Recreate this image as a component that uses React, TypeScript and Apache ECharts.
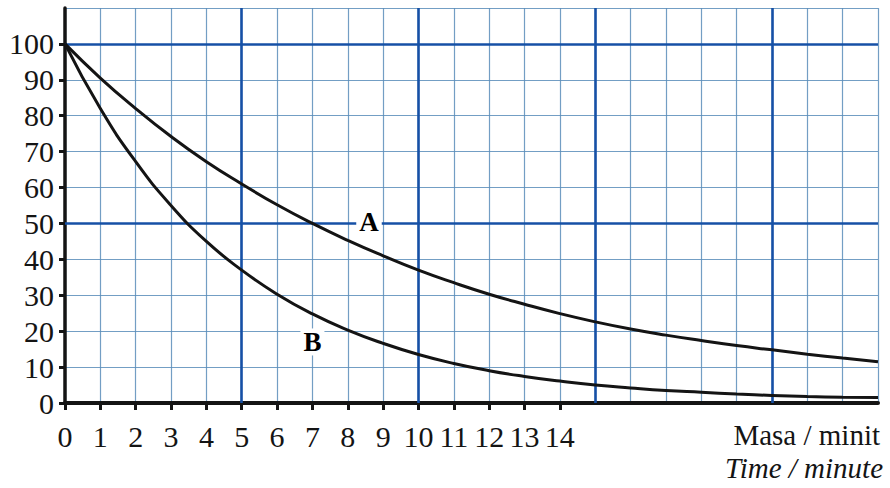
import React, { useEffect, useRef } from "react";
import * as echarts from "echarts";

// time in minutes
const minutes = [0, 1, 2, 3, 4, 5, 6, 7, 8, 9, 10, 11, 12, 13, 14, 15, 16, 17, 18, 19, 20, 21, 22, 23];
// mass (%) for curve A
const massA = [100, 90.5, 82, 74.2, 67.2, 61, 55.2, 50, 45.3, 41, 37, 33.5, 30.3, 27.5, 24.9, 22.6, 20.6, 18.9, 17.4, 16.0, 14.8, 13.6, 12.5, 11.5];
// mass (%) for curve B
const massB = [100, 82, 67.2, 55, 45, 37, 30.3, 24.8, 20.3, 16.6, 13.5, 11.0, 9.0, 7.4, 6.1, 5.0, 4.2, 3.5, 3.0, 2.5, 2.1, 1.8, 1.6, 1.5];

const xTickLabels = [0, 1, 2, 3, 4, 5, 6, 7, 8, 9, 10, 11, 12, 13, 14];
const yTickLabels = [0, 10, 20, 30, 40, 50, 60, 70, 80, 90, 100];
const majorX = [5, 10, 15, 20];
const majorY = [50, 100];

// curve name labels (anchor in data units)
const curveNames = ["A", "B"];
const curveNameX = [8.6, 7.0];
const curveNameY = [50.3, 17.0];

const SERIF = "'Liberation Serif', 'DejaVu Serif', serif";
const INK = "#141414";
const MINOR = "#5b8dba";
const MAJOR = "#1650a6";

export default function App() {
  const ref = useRef<HTMLDivElement>(null);

  useEffect(() => {
    document.body.style.margin = "0";
    const chart = echarts.init(ref.current!, null, { renderer: "svg" });

    const lineA = minutes.map((m, i) => [m, massA[i]]);
    const lineB = minutes.map((m, i) => [m, massB[i]]);
    const nameData = curveNames.map((n, i) => [curveNameX[i], curveNameY[i], n]);

    const majorLines = [
      ...majorX.map((v) => ({ xAxis: v })),
      ...majorY.map((v) => ({ yAxis: v })),
    ];

    chart.setOption({
      animation: false,
      backgroundColor: "#ffffff",
      grid: { left: 65, right: 12, top: 8, bottom: 85 },
      xAxis: [
        {
          type: "value",
          min: 0,
          max: 23,
          interval: 1,
          position: "bottom",
          axisLine: { show: false },
          axisTick: { show: false },
          axisLabel: { show: false },
          splitLine: { show: true, lineStyle: { color: MINOR, width: 1.2, opacity: 0.85 } },
        },
        {
          type: "value",
          min: 0,
          max: 23,
          interval: 1,
          position: "bottom",
          axisLine: { show: true, onZero: false, lineStyle: { color: INK, width: 4 } },
          axisTick: {
            show: true,
            customValues: xTickLabels,
            length: 7,
            lineStyle: { color: INK, width: 3 },
          },
          axisLabel: {
            show: true,
            customValues: xTickLabels,
            margin: 18,
            fontSize: 30,
            fontFamily: SERIF,
            color: INK,
          },
          splitLine: { show: false },
        },
      ],
      yAxis: [
        {
          type: "value",
          min: 0,
          max: 110,
          interval: 10,
          position: "left",
          axisLine: { show: false },
          axisTick: { show: false },
          axisLabel: { show: false },
          splitLine: { show: true, lineStyle: { color: MINOR, width: 1.2, opacity: 0.85 } },
        },
        {
          type: "value",
          min: 0,
          max: 110,
          interval: 10,
          position: "left",
          axisLine: { show: true, onZero: false, lineStyle: { color: INK, width: 3.5 } },
          axisTick: {
            show: true,
            customValues: yTickLabels,
            length: 6,
            lineStyle: { color: INK, width: 3 },
          },
          axisLabel: {
            show: true,
            customValues: yTickLabels,
            margin: 11,
            fontSize: 30,
            fontFamily: SERIF,
            color: INK,
          },
          splitLine: { show: false },
        },
      ],
      series: [
        {
          type: "line",
          name: "major",
          xAxisIndex: 0,
          yAxisIndex: 0,
          data: [],
          silent: true,
          markLine: {
            silent: true,
            symbol: "none",
            label: { show: false },
            lineStyle: { color: MAJOR, width: 2.6, type: "solid" },
            data: majorLines,
          },
        },
        {
          type: "line",
          name: "A",
          xAxisIndex: 0,
          yAxisIndex: 0,
          data: lineA,
          smooth: true,
          showSymbol: false,
          lineStyle: { color: INK, width: 3 },
          z: 5,
        },
        {
          type: "line",
          name: "B",
          xAxisIndex: 0,
          yAxisIndex: 0,
          data: lineB,
          smooth: true,
          showSymbol: false,
          lineStyle: { color: INK, width: 3 },
          z: 5,
        },
        {
          type: "scatter",
          xAxisIndex: 0,
          yAxisIndex: 0,
          data: nameData,
          symbolSize: 0,
          itemStyle: { opacity: 1 },
          z: 6,
          label: {
            show: true,
            position: "inside",
            formatter: (p: any) => p.value[2],
            fontFamily: SERIF,
            fontWeight: "bold",
            fontSize: 27,
            color: "#000000",
            opacity: 1,
            backgroundColor: "#ffffff",
            padding: [0, 3, 0, 3],
          },
        },
      ],
      graphic: [
        {
          type: "text",
          right: 10,
          top: 420,
          style: {
            text: "Masa / minit",
            font: `29px ${SERIF}`,
            fill: INK,
          },
        },
        {
          type: "text",
          right: 7,
          top: 453,
          style: {
            text: "Time / minute",
            font: `italic 29px ${SERIF}`,
            fill: INK,
          },
        },
      ],
    });

    return () => chart.dispose();
  }, []);

  return (
    <div
      ref={ref}
      style={{ position: "fixed", left: 0, top: 0, width: 890, height: 488 }}
    />
  );
}
